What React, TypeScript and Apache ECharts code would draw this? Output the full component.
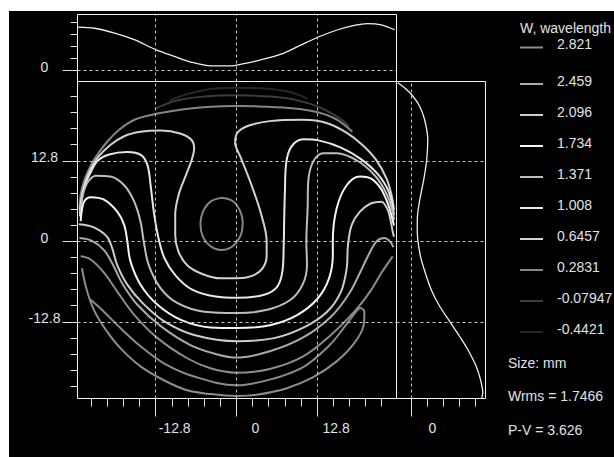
import React, { useEffect, useRef } from "react";
import * as echarts from "echarts";

const FONT = "'Liberation Sans', Arial, Helvetica, sans-serif";
const INK = "#e2e2e2";

// axis ranges (pupil coordinates in mm, wavefront W in wavelengths)
const xRange = [-25.2, 25.4];
const yRange = [-25, 25.4];
const wRange = [-0.6, 2.96];

// tick values
const axisMajor = [-12.8, 0, 12.8];
const axisMinor = [-23.04, -20.48, -17.92, -15.36, -10.24, -7.68, -5.12, -2.56, 2.56, 5.12, 7.68, 10.24, 15.36, 17.92, 20.48, 23.04];
const wMajor = [0];
const wMinor = [0.64, 1.28, 1.92, 2.56];

// contour levels
const levelNames = ["2.821", "2.459", "2.096", "1.734", "1.371", "1.008", "0.6457", "0.2831", "-0.07947", "-0.4421"];
const levelColors = ["#8c8c8c", "#a9a9a9", "#cdcdcd", "#f4f4f4", "#bebebe", "#e8e8e8", "#d2d2d2", "#858585", "#3c3c3c", "#262626"];

// summary texts
const legendTitle = "W, wavelength";
const sizeUnit = "mm";
const wrms = "1.7466";
const peakToValley = "3.626";

// contour lines, [x mm, y mm]
const contourM04421 = [[-10.7, 22.3], [-7.8, 23.4], [-4.1, 24.2], [0, 24.4], [4.4, 24.3], [8.1, 23.8], [11.3, 22.7]];
const contourM007947 = [[-12.8, 21.1], [-9.4, 22.4], [-5.1, 23.0], [0, 23.2], [5.5, 23.0], [9.7, 22.4], [13.4, 21.2], [16.6, 19.4], [17.9, 18.2]];
const contour02831Rim = [[-24.9, 5.0], [-24.7, 7.4], [-24.2, 9.5], [-23.5, 11.2], [-22.5, 13.1], [-20.6, 15.7], [-18.5, 17.8], [-16.0, 19.4], [-12.5, 20.3], [-8.3, 21.0], [-4.1, 21.4], [0, 21.5], [4.4, 21.4], [9.2, 21.1], [12.9, 20.5], [16.0, 19.3], [18.4, 17.4]];
const contour02831Core = [[-2.4, 6.9], [-0.6, 6.4], [0.5, 5.0], [1.0, 3.1], [0.7, 1.0], [-0.6, -0.8], [-2.4, -1.4], [-4.1, -0.8], [-5.3, 0.7], [-5.7, 2.75], [-5.3, 4.7], [-4.1, 6.3], [-2.4, 6.9]];
const contour06457 = [[-24.8, 4.4], [-24.6, 6.8], [-24.1, 8.9], [-23.3, 11.1], [-22.0, 13.3], [-20.0, 15.3], [-17.8, 16.7], [-15.2, 17.4], [-12.0, 17.6], [-8.8, 17.1], [-7.1, 16.1], [-6.7, 14.8], [-7.1, 12.9], [-8.0, 10.5], [-9.1, 7.6], [-9.7, 4.2], [-9.7, 1.0], [-9.2, -1.6], [-7.8, -3.8], [-5.4, -5.2], [-2.5, -5.9], [0.2, -5.9], [2.5, -5.5], [4.1, -4.4], [4.8, -2.4], [4.8, 0], [3.9, 4.4], [2.3, 9.2], [0.7, 13.3], [-0.2, 15.7], [0.2, 17.3], [2.0, 18.4], [5.3, 19.1], [10.6, 19.3], [14.3, 18.8], [17.4, 17.3], [20.0, 15.3], [22.2, 12.9], [23.8, 10.0], [24.6, 7.4], [25.0, 5.0]];
const contour1008 = [[-24.8, 4.0], [-24.6, 6.3], [-24.1, 8.7], [-23.2, 10.8], [-22.0, 12.8], [-20.2, 13.8], [-17.3, 14.2], [-15.1, 13.7], [-14.1, 12.1], [-13.6, 8.9], [-13.1, 4.7], [-12.4, 0.7], [-11.4, -2.7], [-9.6, -5.5], [-7.0, -7.7], [-3.3, -8.8], [0.2, -9.0], [4.4, -8.5], [6.5, -7.2], [7.3, -4.8], [7.5, -1.1], [7.6, 4.2], [7.7, 7.9], [7.9, 12.4], [8.7, 15.0], [10.6, 16.2], [13.2, 16.0], [16.6, 14.9], [19.7, 13.1], [22.4, 10.7], [24.2, 7.8], [25.0, 4.2]];
const contour1371 = [[-24.7, 3.7], [-24.6, 5.8], [-24.2, 7.9], [-23.5, 9.5], [-22.3, 10.4], [-20.0, 10.3], [-17.8, 8.9], [-16.2, 6.3], [-15.2, 3.1], [-14.7, 0], [-13.9, -3.8], [-12.0, -7.5], [-9.4, -9.8], [-5.1, -11.2], [0.2, -11.4], [4.9, -10.9], [8.6, -9.3], [10.5, -6.9], [11.2, -3.8], [11.1, 0], [11.3, 5.2], [11.4, 9.5], [12.2, 12.7], [13.8, 14.0], [15.9, 14.0], [19.2, 12.8], [22.1, 10.3], [23.9, 7.4], [24.8, 4.7], [25.0, 3.4]];
const contour1734 = [[-24.7, 3.2], [-24.5, 5.0], [-24.1, 6.4], [-23.1, 7.0], [-21.0, 6.6], [-18.9, 4.7], [-17.8, 2.6], [-17.3, 0], [-16.8, -3.2], [-15.2, -6.9], [-12.5, -10.1], [-8.8, -12.5], [-4.1, -13.7], [0.2, -13.8], [5.5, -13.3], [9.7, -11.7], [12.9, -9.1], [14.7, -5.9], [15.3, -2.2], [15.3, 0], [15.9, 5.2], [17.5, 8.9], [19.6, 10.3], [21.3, 10.0], [22.9, 8.4], [24.1, 5.8], [24.7, 3.7], [25.0, 2.5]];
const contour2096 = [[-25.0, 2.7], [-22.6, 2.2], [-20.5, 0.7], [-19.7, -1.1], [-18.9, -3.8], [-17.3, -6.9], [-14.9, -9.8], [-11.5, -12.7], [-6.7, -14.9], [0.2, -15.9], [6.0, -15.4], [10.7, -13.7], [14.4, -11.2], [16.6, -8.0], [17.5, -4.3], [17.7, -0.6], [18.3, 2.6], [19.6, 4.7], [21.3, 6.0], [23.0, 6.3], [24.0, 5.0], [24.5, 3.1], [24.8, 1.5], [25.0, 0.7]];
const contour2459 = [[-24.9, 0.5], [-22.9, 0.05], [-21.0, -1.4], [-19.7, -3.5], [-18.1, -6.7], [-15.7, -10.1], [-12.0, -13.5], [-7.3, -16.5], [-3.0, -18.0], [0, -18.5], [5.3, -17.5], [10.6, -15.3], [15.0, -12.0], [17.9, -8.3], [19.7, -4.8], [21.1, -1.9], [22.3, 0.05], [23.5, 0.5], [24.5, -0.2], [24.9, -0.95]];
const contour2821Arc = [[-24.7, -2.4], [-23.1, -2.9], [-21.0, -5.0], [-18.9, -8.0], [-16.2, -11.7], [-12.5, -15.4], [-7.8, -18.6], [-4.1, -20.2], [0, -20.9], [5.3, -20.3], [10.6, -18.3], [15.0, -14.9], [18.7, -11.2], [21.2, -8.0], [22.9, -5.2], [24.1, -3.4], [24.8, -2.4]];
const contour2821Loop = [[-23.1, -9.3], [-21.0, -11.2], [-18.4, -13.8], [-15.2, -16.7], [-11.5, -19.4], [-6.7, -21.5], [0, -22.9], [5.3, -22.0], [10.6, -20.0], [14.8, -16.5], [17.4, -13.3], [18.9, -11.3], [19.7, -10.6], [20.3, -11.2], [20.2, -13.3], [18.7, -16.2], [15.9, -19.1], [12.2, -21.6], [7.9, -23.4], [3.2, -24.4], [0, -24.6], [-4.1, -24.3], [-7.8, -23.7], [-11.5, -22.1], [-15.2, -19.9], [-18.4, -17.0], [-20.7, -14.1], [-22.6, -10.9], [-23.8, -7.5], [-24.5, -4.3]];

// horizontal cut (top panel): x mm -> W
const topProfileX = [-25.2, -22.5, -19.3, -16.2, -12.7, -9.8, -7.2, -4.0, -0.8, 0.8, 3.9, 7.1, 10.3, 13.2, 16.1, 18.7, 20.8, 23.0, 25.1];
const topProfileW = [2.29, 2.23, 1.97, 1.62, 1.08, 0.73, 0.43, 0.23, 0.23, 0.32, 0.55, 0.85, 1.35, 1.79, 2.15, 2.38, 2.48, 2.41, 2.15];

// vertical cut (right panel): y mm -> W
const rightProfileY = [25.2, 24.4, 23.1, 21.5, 19.4, 16.2, 13.0, 9.8, 7.2, 4.5, 2.4, 0.3, -2.4, -5.0, -7.7, -10.3, -12.7, -15.1, -17.2, -19.9, -22.0, -24.1, -24.9];
const rightProfileW = [-0.55, -0.28, 0.05, 0.32, 0.52, 0.65, 0.61, 0.49, 0.36, 0.25, 0.23, 0.25, 0.36, 0.55, 0.79, 1.12, 1.52, 1.92, 2.25, 2.59, 2.76, 2.85, 2.81];

const contourPieces: [string, number[][]][] = [
  ["-0.4421", contourM04421],
  ["-0.07947", contourM007947],
  ["0.2831", contour02831Rim],
  ["0.2831", contour02831Core],
  ["0.6457", contour06457],
  ["1.008", contour1008],
  ["1.371", contour1371],
  ["1.734", contour1734],
  ["2.096", contour2096],
  ["2.459", contour2459],
  ["2.821", contour2821Arc],
  ["2.821", contour2821Loop],
];

const colorOf = (lvl: string) => levelColors[levelNames.indexOf(lvl)];

const tick = (values: number[], length: number) => ({
  show: true,
  customValues: values,
  length,
  lineStyle: { color: INK, width: 1 },
});
const noLabel = { show: false };
const label = (values: number[], extra: any) => ({
  show: true,
  customValues: values,
  color: INK,
  fontSize: 14,
  fontFamily: FONT,
  ...extra,
});
const bare = { axisLine: { show: false, onZero: false }, splitLine: { show: false } };
const yLabelStyle = { margin: 33, align: "center", verticalAlign: "bottom", lineHeight: 7 };

const gridLineSeries = (xi: number, yi: number, xs: number[], ys: number[]) => ({
  type: "line",
  xAxisIndex: xi,
  yAxisIndex: yi,
  data: [],
  z: 1,
  silent: true,
  markLine: {
    silent: true,
    animation: false,
    symbol: ["none", "none"],
    label: { show: false },
    lineStyle: { color: "#c4c4c4", type: [3, 3], width: 1 },
    data: [...xs.map((v) => ({ xAxis: v })), ...ys.map((v) => ({ yAxis: v }))],
  },
});

function buildOption() {
  const contourSeries = contourPieces.map(([lvl, pts]) => ({
    type: "line",
    name: lvl,
    xAxisIndex: 0,
    yAxisIndex: 0,
    data: pts,
    smooth: 0.35,
    symbol: "none",
    showSymbol: false,
    silent: true,
    z: 3,
    lineStyle: { color: colorOf(lvl), width: 2 },
    itemStyle: { color: colorOf(lvl) },
  }));

  const legendCommon = {
    orient: "vertical",
    left: 520,
    padding: 0,
    icon: "path://M0,0L0.01,0L0,0.01Z M0,7H23V9H0Z",
    itemWidth: 23,
    itemHeight: 9,
    itemGap: 17,
    selectedMode: false,
    itemStyle: { borderWidth: 0 },
    textStyle: { color: INK, fontSize: 14, fontFamily: FONT, padding: [0, 0, 0, 9] },
  };

  const gridBox = { show: true, borderColor: "#f2f2f2", borderWidth: 1, backgroundColor: "transparent" };

  return {
    animation: false,
    backgroundColor: "#ffffff",
    title: {
      text: legendTitle,
      left: 520,
      top: 21,
      padding: 0,
      textStyle: { color: INK, fontSize: 14, fontWeight: "normal", fontFamily: FONT },
    },
    legend: [
      { ...legendCommon, top: 37, data: [levelNames[0]] },
      { ...legendCommon, top: 73.5, data: levelNames.slice(1) },
    ],
    grid: [
      { ...gridBox, left: 77.5, top: 81.5, width: 319, height: 317 },
      { ...gridBox, left: 77.5, top: 14.5, width: 319, height: 67 },
      { ...gridBox, left: 396.5, top: 81.5, width: 89, height: 317 },
    ],
    xAxis: [
      { gridIndex: 0, type: "value", min: xRange[0], max: xRange[1], position: "bottom", ...bare, axisTick: tick(axisMinor, 8), axisLabel: noLabel },
      { gridIndex: 0, type: "value", min: xRange[0], max: xRange[1], position: "bottom", ...bare, axisTick: tick(axisMajor, 18), axisLabel: label(axisMajor, { margin: 22, padding: [0, 0, 0, 38] }) },
      { gridIndex: 1, type: "value", min: xRange[0], max: xRange[1], show: false },
      { gridIndex: 2, type: "value", min: wRange[0], max: wRange[1], position: "bottom", ...bare, axisTick: tick(wMinor, 8), axisLabel: noLabel },
      { gridIndex: 2, type: "value", min: wRange[0], max: wRange[1], position: "bottom", ...bare, axisTick: tick(wMajor, 18), axisLabel: label(wMajor, { margin: 22, padding: [0, 0, 0, 42] }) },
    ],
    yAxis: [
      { gridIndex: 0, type: "value", min: yRange[0], max: yRange[1], position: "left", ...bare, axisTick: tick(axisMinor, 7), axisLabel: noLabel },
      { gridIndex: 0, type: "value", min: yRange[0], max: yRange[1], position: "left", ...bare, axisTick: tick(axisMajor, 15), axisLabel: label(axisMajor, yLabelStyle) },
      { gridIndex: 1, type: "value", min: wRange[0], max: wRange[1], position: "left", ...bare, axisTick: tick(wMinor, 7), axisLabel: noLabel },
      { gridIndex: 1, type: "value", min: wRange[0], max: wRange[1], position: "left", ...bare, axisTick: tick(wMajor, 15), axisLabel: label(wMajor, yLabelStyle) },
      { gridIndex: 2, type: "value", min: yRange[0], max: yRange[1], show: false },
    ],
    graphic: {
      elements: [
        { type: "rect", z: -100, silent: true, shape: { x: 9, y: 11, width: 605, height: 446 }, style: { fill: "#000000" } },
        { type: "text", x: 508, y: 356, silent: true, style: { text: `Size: ${sizeUnit}`, fill: INK, font: `14px ${FONT}` } },
        { type: "text", x: 508, y: 389, silent: true, style: { text: `Wrms = ${wrms}`, fill: INK, font: `14px ${FONT}` } },
        { type: "text", x: 508, y: 423, silent: true, style: { text: `P-V = ${peakToValley}`, fill: INK, font: `14px ${FONT}` } },
      ],
    },
    series: [
      gridLineSeries(0, 0, axisMajor, axisMajor),
      gridLineSeries(2, 2, axisMajor, wMajor),
      gridLineSeries(3, 4, wMajor, axisMajor),
      ...contourSeries,
      {
        type: "line",
        name: "x-profile",
        xAxisIndex: 2,
        yAxisIndex: 2,
        data: topProfileX.map((x, i) => [x, topProfileW[i]]),
        smooth: 0.3,
        symbol: "none",
        silent: true,
        z: 3,
        lineStyle: { color: "#f0f0f0", width: 1.3 },
      },
      {
        type: "line",
        name: "y-profile",
        xAxisIndex: 3,
        yAxisIndex: 4,
        data: rightProfileY.map((y, i) => [rightProfileW[i], y]),
        smooth: 0.3,
        symbol: "none",
        silent: true,
        z: 3,
        lineStyle: { color: "#f0f0f0", width: 1.3 },
      },
    ],
  };
}

export default function App() {
  const ref = useRef<HTMLDivElement>(null);
  useEffect(() => {
    if (!ref.current) return;
    const chart = echarts.init(ref.current, null, { renderer: "svg" });
    chart.setOption(buildOption() as any);
    return () => chart.dispose();
  }, []);
  return <div ref={ref} style={{ position: "fixed", left: 0, top: 0, width: 614, height: 457 }} />;
}
